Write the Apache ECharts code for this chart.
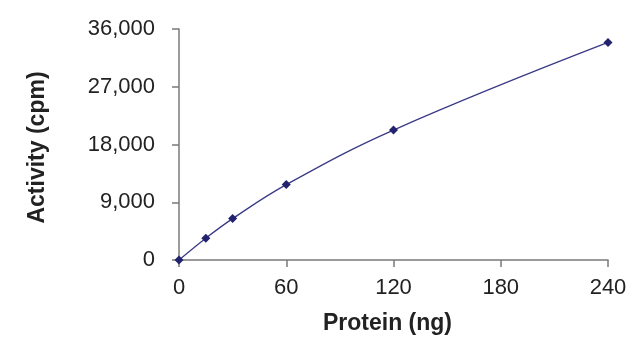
<!DOCTYPE html>
<html>
<head>
<meta charset="utf-8">
<script src="https://cdn.jsdelivr.net/npm/echarts@6/dist/echarts.min.js"></script>
<style>
  html, body { margin: 0; padding: 0; background: #fff; }
  #chart { width: 640px; height: 351px; }
</style>
</head>
<body>
<div id="chart"></div>
<script>
// protein amount (ng) vs activity (cpm)
const protein = [0, 15, 30, 60, 120, 240]
const activity = [0, 3400, 6450, 11750, 20250, 33900]
const yTicks = [0, 9000, 18000, 27000, 36000]
const xTicks = [0, 60, 120, 180, 240]

const chart = echarts.init(document.getElementById('chart'))

const axisColor = '#7a7a7a'
const textColor = '#222'

chart.setOption({
  animation: false,
  grid: { left: 179, right: 32, top: 29, bottom: 91 },
  xAxis: {
    type: 'value',
    min: xTicks[0],
    max: xTicks[xTicks.length - 1],
    interval: 60,
    name: 'Protein (ng)',
    nameLocation: 'middle',
    nameGap: 52,
    nameTextStyle: { fontFamily: 'Liberation Sans', fontSize: 23, fontWeight: 'bold', color: textColor, padding: [0, 12, 0, 0] },
    axisLine: { lineStyle: { color: axisColor, width: 1.5 } },
    axisTick: { inside: false, length: 7, lineStyle: { color: axisColor, width: 1.5 } },
    axisLabel: { fontFamily: 'Liberation Sans', fontSize: 22, color: textColor, margin: 17 },
    splitLine: { show: false }
  },
  yAxis: {
    type: 'value',
    min: yTicks[0],
    max: yTicks[yTicks.length - 1],
    interval: 9000,
    name: 'Activity (cpm)',
    nameLocation: 'middle',
    nameGap: 130,
    nameRotate: 90,
    nameTextStyle: { fontFamily: 'Liberation Sans', fontSize: 23, fontWeight: 'bold', color: textColor, padding: [0, 6, 0, 0] },
    axisLine: { show: true, lineStyle: { color: axisColor, width: 1.5 } },
    axisTick: { show: true, length: 7, lineStyle: { color: axisColor, width: 1.5 } },
    axisLabel: {
      fontFamily: 'Liberation Sans', fontSize: 22, color: textColor, margin: 24,
      formatter: v => v.toLocaleString('en-US')
    },
    splitLine: { show: false }
  },
  series: [{
    type: 'line',
    data: protein.map((p, i) => [p, activity[i]]),
    smooth: 0.4,
    symbol: 'diamond',
    symbolSize: 9,
    lineStyle: { color: '#3a3a86', width: 1.3 },
    itemStyle: { color: '#22226e' }
  }]
})
</script>
</body>
</html>
